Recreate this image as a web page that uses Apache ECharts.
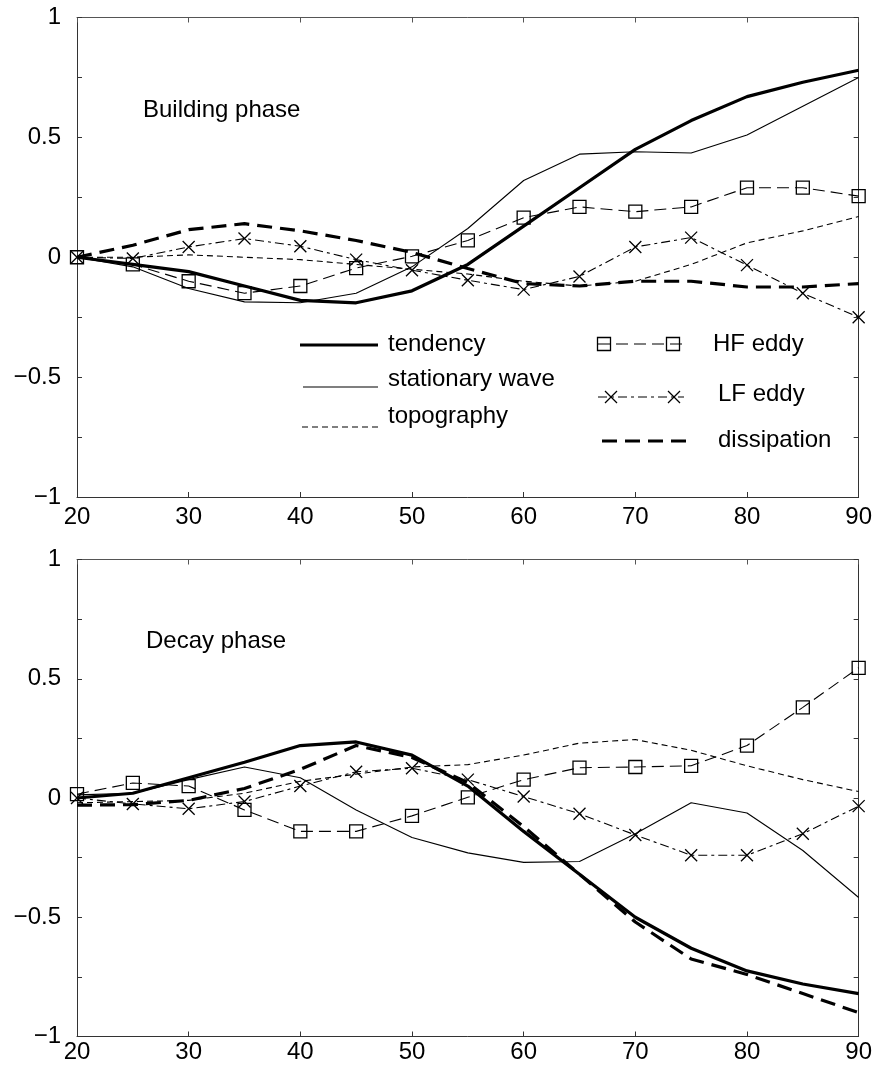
<!DOCTYPE html>
<html><head><meta charset="utf-8">
<script src="https://cdn.jsdelivr.net/npm/echarts@6/dist/echarts.min.js"></script>
<style>html,body{margin:0;padding:0;background:#fff}#c{width:875px;height:1068px}</style>
</head><body><div id="c"></div>
<script>
// ---- data ----
const latitudes = [20,25,30,35,40,45,50,55,60,65,70,75,80,85,90];
const yLabelTicks = [-1, -0.5, 0, 0.5, 1];

// Building phase
const buildTendency   = [0,-0.03,-0.06,-0.12,-0.18,-0.19,-0.14,-0.03,0.13,0.29,0.45,0.57,0.67,0.73,0.78];
const buildStationary = [0,-0.04,-0.13,-0.186,-0.19,-0.15,-0.04,0.12,0.32,0.43,0.44,0.435,0.51,0.63,0.75];
const buildTopography = [0,0,0.01,0,-0.01,-0.03,-0.05,-0.07,-0.1,-0.12,-0.1,-0.03,0.06,0.11,0.17];
const buildHF         = [0,-0.03,-0.1,-0.15,-0.12,-0.045,0.004,0.07,0.165,0.21,0.19,0.21,0.29,0.29,0.255];
const buildLF         = [0,-0.005,0.043,0.078,0.046,-0.01,-0.054,-0.096,-0.135,-0.08,0.043,0.082,-0.033,-0.15,-0.25];
const buildDiss       = [0,0.05,0.115,0.14,0.11,0.07,0.02,-0.047,-0.11,-0.12,-0.1,-0.1,-0.124,-0.124,-0.11];

// Decay phase
const decayTendency   = [0,0.02,0.085,0.15,0.22,0.235,0.18,0.05,-0.14,-0.32,-0.5,-0.63,-0.725,-0.78,-0.82];
const decayStationary = [0.013,0.02,0.077,0.13,0.085,-0.05,-0.166,-0.23,-0.27,-0.266,-0.15,-0.02,-0.063,-0.22,-0.417];
const decayTopography = [-0.02,-0.015,-0.01,0.02,0.07,0.1,0.13,0.14,0.18,0.23,0.245,0.2,0.135,0.077,0.027];
const decayHF         = [0.016,0.063,0.05,-0.05,-0.14,-0.14,-0.075,0.003,0.077,0.127,0.13,0.135,0.22,0.38,0.546];
const decayLF         = [0,-0.025,-0.045,-0.015,0.05,0.11,0.125,0.077,0.006,-0.066,-0.155,-0.24,-0.24,-0.15,-0.034];
const decayDiss       = [-0.03,-0.028,-0.01,0.04,0.12,0.22,0.17,0.065,-0.12,-0.32,-0.52,-0.675,-0.74,-0.82,-0.9];

const panelTitles = ['Building phase', 'Decay phase'];
const legendNames = ['tendency','stationary wave','topography','HF eddy','LF eddy','dissipation'];

// ---- chart ----
const FONT = 'Liberation Sans, Arial, Helvetica, sans-serif';
const FS = 24;
const X_PATH = 'path://M0,0L10,10M10,0L0,10';

function pairs(arr){ return latitudes.map((x,i)=>[x,arr[i]]); }
function yFmt(v){
  const ok = yLabelTicks.some(t => Math.abs(t - v) < 1e-9);
  if (!ok) return '';
  return v < 0 ? '\u2212' + String(-v) : String(v);
}

const grids = [
  {left:77, top:17.5, width:783, height:479.5},
  {left:77, top:559.5, width:782, height:477}
];
const xLabelMargin = [8, 4];

const xAxes = [], yAxes = [];
grids.forEach((g,gi)=>{
  xAxes.push({type:'value', gridIndex:gi, min:20, max:90, interval:10, position:'bottom',
    axisLine:{show:true, onZero:false, lineStyle:{color:'#333', width:1}},
    axisTick:{show:true, inside:true, length:5, lineStyle:{color:'#333'}},
    splitLine:{show:false},
    axisLabel:{color:'#000', fontSize:FS, fontFamily:FONT, margin:xLabelMargin[gi]}});
  xAxes.push({type:'value', gridIndex:gi, min:20, max:90, interval:10, position:'top',
    axisLine:{show:true, onZero:false, lineStyle:{color:'#555', width:1}},
    axisTick:{show:true, inside:true, length:5, lineStyle:{color:'#555'}},
    splitLine:{show:false}, axisLabel:{show:false}});
  yAxes.push({type:'value', gridIndex:gi, min:-1, max:1, interval:0.25, position:'left',
    axisLine:{show:true, onZero:false, lineStyle:{color:'#333', width:1}},
    axisTick:{show:true, inside:true, length:5, lineStyle:{color:'#333'}},
    splitLine:{show:false},
    axisLabel:{color:'#000', fontSize:FS, fontFamily:FONT, margin:16, formatter:yFmt}});
  yAxes.push({type:'value', gridIndex:gi, min:-1, max:1, interval:0.25, position:'right',
    axisLine:{show:true, onZero:false, lineStyle:{color:'#333', width:1}},
    axisTick:{show:true, inside:true, length:5, lineStyle:{color:'#333'}},
    splitLine:{show:false}, axisLabel:{show:false}});
});

function makeSeries(gi, data){
  const xi = gi*2, yi = gi*2;
  const base = {type:'line', xAxisIndex:xi, yAxisIndex:yi, animation:false, silent:true, z:3};
  return [
    Object.assign({}, base, {name:legendNames[0], data:pairs(data[0]), showSymbol:false, symbol:'none',
      lineStyle:{color:'#000', width:3.2, type:'solid'}}),
    Object.assign({}, base, {name:legendNames[1], data:pairs(data[1]), showSymbol:false, symbol:'none',
      lineStyle:{color:'#000', width:1.1, type:'solid'}}),
    Object.assign({}, base, {name:legendNames[2], data:pairs(data[2]), showSymbol:false, symbol:'none',
      lineStyle:{color:'#000', width:1.1, type:[6,4]}}),
    Object.assign({}, base, {name:legendNames[3], data:pairs(data[3]), symbol:'rect', symbolSize:13, showAllSymbol:true,
      itemStyle:{color:'rgba(0,0,0,0)', borderColor:'#000', borderWidth:1.3},
      lineStyle:{color:'#000', width:1.1, type:[12,6]}}),
    Object.assign({}, base, {name:legendNames[4], data:pairs(data[4]), symbol:X_PATH, symbolSize:12, showAllSymbol:true,
      itemStyle:{color:'rgba(0,0,0,0)', borderColor:'#000', borderWidth:1.3},
      lineStyle:{color:'#000', width:1.1, type:[9,4,3,4]}}),
    Object.assign({}, base, {name:legendNames[5], data:pairs(data[5]), showSymbol:false, symbol:'none',
      lineStyle:{color:'#000', width:3.2, type:[15,8]}})
  ];
}

const series = [
  ...makeSeries(0, [buildTendency, buildStationary, buildTopography, buildHF, buildLF, buildDiss]),
  ...makeSeries(1, [decayTendency, decayStationary, decayTopography, decayHF, decayLF, decayDiss])
];

// legend drawn as graphics (decoration, not data)
const txt = (x,y,t)=>({type:'text', x:x, y:y, style:{text:t, fill:'#000', font:FS+'px '+FONT, textVerticalAlign:'middle'}});
const ln = (x1,x2,y,w,dash)=>({type:'line', shape:{x1:x1,y1:y,x2:x2,y2:y}, style:{stroke:'#000', lineWidth:w, lineDash:dash||null}});
const sq = (cx,cy)=>({type:'rect', shape:{x:cx-6.5,y:cy-6.5,width:13,height:13}, style:{stroke:'#000', fill:'none', lineWidth:1.3}});
const cross = (cx,cy)=>({type:'group', children:[
  {type:'line', shape:{x1:cx-6,y1:cy-6,x2:cx+6,y2:cy+6}, style:{stroke:'#000', lineWidth:1.3}},
  {type:'line', shape:{x1:cx+6,y1:cy-6,x2:cx-6,y2:cy+6}, style:{stroke:'#000', lineWidth:1.3}}]});

const graphics = [
  txt(143, 110, panelTitles[0]),
  txt(146, 641, panelTitles[1]),
  ln(300, 378, 345, 3.2),
  txt(388, 344, legendNames[0]),
  ln(303, 378, 387, 1.1),
  txt(388, 379, legendNames[1]),
  ln(302, 378, 427, 1.1, [6,4]),
  txt(388, 416, legendNames[2]),
  ln(598, 686, 344, 1.1, [12,6]),
  sq(604, 344), sq(673, 344),
  txt(713, 344, legendNames[3]),
  ln(598, 684, 397, 1.1, [9,4,3,4]),
  cross(611, 397), cross(674, 397),
  txt(718, 394, legendNames[4]),
  ln(602, 692, 441, 3.2, [15,8]),
  txt(718, 440, legendNames[5])
];

const chart = echarts.init(document.getElementById('c'), null, {renderer:'canvas'});
chart.setOption({
  backgroundColor:'#fff',
  animation:false,
  grid: grids,
  xAxis: xAxes,
  yAxis: yAxes,
  series: series,
  graphic: graphics
});
</script>
</body></html>
